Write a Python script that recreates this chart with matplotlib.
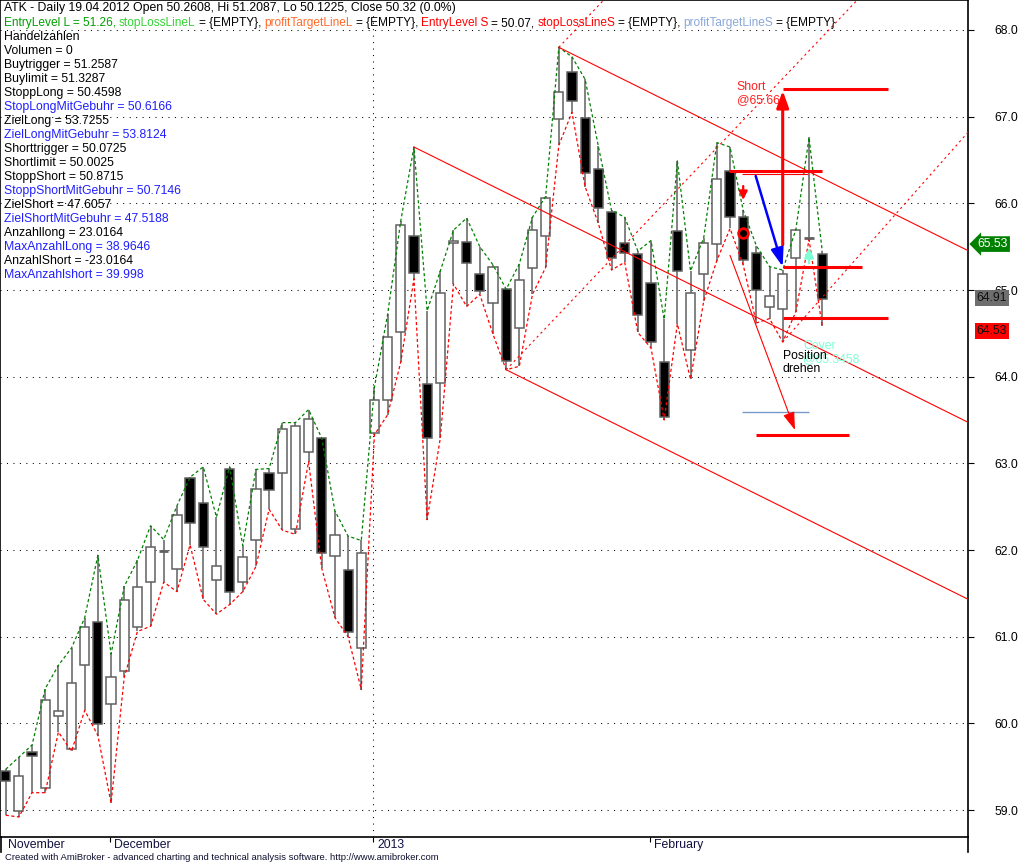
import numpy as np
import matplotlib
matplotlib.use("Agg")
import matplotlib.pyplot as plt
from matplotlib.lines import Line2D

plt.rcParams['font.family'] = ['Liberation Sans', 'DejaVu Sans']

# daily candles, Nov 2012 - Feb 2013
opens = [59.45, 58.99, 59.67, 59.25, 60.09, 59.70, 60.67, 61.17, 60.22, 60.60,
         61.11, 61.63, 61.99, 61.78, 62.83, 62.54, 61.65, 62.94, 61.63, 62.12,
         62.885, 62.885, 62.24, 63.13, 63.29, 61.93, 61.77, 60.87, 63.35, 63.73,
         64.52, 65.62, 63.91, 63.93, 65.54, 65.55, 65.19, 64.85, 65.01, 64.56,
         65.25, 65.62, 66.97, 67.51, 66.99, 66.40, 65.90, 65.54, 65.42, 65.08,
         64.17, 65.68, 64.31, 65.18, 65.53, 66.37, 65.84, 65.43, 64.80, 64.78,
         65.37, 65.60, 65.41]
highs = [59.47, 59.61, 59.75, 60.40, 60.67, 60.87, 61.22, 61.94, 60.80, 61.58,
         61.88, 62.28, 62.12, 62.51, 62.84, 62.96, 62.38, 62.96, 62.05, 62.93,
         62.94, 63.47, 63.47, 63.62, 63.29, 62.45, 62.16, 62.11, 63.88, 64.72,
         65.80, 66.65, 64.76, 65.22, 65.69, 65.83, 65.50, 65.29, 65.01, 65.30,
         65.84, 66.08, 67.80, 67.69, 67.43, 66.66, 65.92, 65.84, 65.45, 65.57,
         64.66, 66.49, 65.22, 65.60, 66.70, 66.65, 65.92, 65.51, 65.27, 65.23,
         65.70, 66.76, 65.45]
lows = [58.94, 58.92, 59.20, 59.20, 59.90, 59.68, 60.15, 59.86, 59.08, 60.53,
        61.06, 61.12, 61.63, 61.52, 62.06, 61.43, 61.26, 61.37, 61.52, 61.81,
        62.47, 62.23, 62.18, 63.02, 61.79, 61.22, 61.00, 60.39, 63.33, 63.56,
        64.17, 65.13, 62.35, 63.29, 65.07, 64.81, 64.95, 64.49, 64.08, 64.12,
        64.95, 65.26, 66.67, 67.05, 66.19, 65.77, 65.23, 65.32, 64.51, 64.33,
        63.50, 64.61, 63.97, 64.87, 65.34, 65.71, 65.29, 64.62, 64.67, 64.40,
        64.75, 65.58, 64.58]
closes = [59.34, 59.39, 59.62, 60.27, 60.14, 60.47, 61.11, 59.99, 60.54, 61.42,
          61.57, 62.03, 61.99, 62.40, 62.31, 62.04, 61.82, 61.52, 61.92, 62.70,
          62.69, 63.40, 63.43, 63.51, 61.96, 62.17, 61.05, 61.96, 63.73, 64.455,
          65.75, 65.20, 63.29, 64.97, 65.57, 65.31, 64.985, 65.27, 64.18, 65.11,
          65.69, 66.06, 67.28, 67.18, 66.35, 65.95, 65.37, 65.43, 64.71, 64.40,
          63.54, 65.22, 64.97, 65.54, 66.28, 65.84, 65.35, 65.00, 64.93, 65.18,
          65.69, 65.60, 64.90]

month_labels = ['November', 'December', '2013', 'February']
month_starts = [0, 8, 28, 49]

# falling channel (solid) : start bar, start price, slope per bar
chan_start = [31, 42, 38]
chan_price = [66.65, 67.80, 64.08]
chan_slope = -0.0755
# rising lines (dotted)
rise_start = [38, 42, 59]
rise_price = [64.08, 67.80, 64.40]
rise_slope = [0.16, 0.16, 0.172]

# trade levels: price, bar from, bar to, width
levels = [(67.32, 59, 67.0, 2.2), (66.377, 54.94, 62.0, 2.2), (66.335, 55.9, 60.9, 0.8),
          (65.265, 59, 65.0, 2.2), (64.68, 59, 67.0, 2.2), (63.327, 57.0, 64.0, 2.2)]
target_level = (63.59, 55.9, 61.0)

last_close = 64.91
sig_high = 65.53
sig_low = 64.53

legend1 = "ATK - Daily 19.04.2012 Open 50.2608, Hi 51.2087, Lo 50.1225, Close 50.32 (0.0%)"
legend2 = [("EntryLevel L = 51.26,", '#00a000'), ("stopLossLineL", '#33d433'), ("= {EMPTY},", 'black'),
           ("profitTargetLineL", '#ff6a2a'), ("= {EMPTY},", 'black'),
           ("EntryLevel S", '#ff0000'), ("= 50.07,", 'black'),
           ("stopLossLineS", '#ff0000'), ("= {EMPTY},", 'black'),
           ("profitTargetLineS", '#8aa8d8'), ("= {EMPTY}", 'black')]
info = [("Handelzahlen", 'k'), ("Volumen = 0", 'k'), ("Buytrigger = 51.2587", 'k'),
        ("Buylimit = 51.3287", 'k'), ("StoppLong = 50.4598", 'k'),
        ("StopLongMitGebuhr = 50.6166", '#1f1fff'), ("ZielLong = 53.7255", 'k'),
        ("ZielLongMitGebuhr = 53.8124", '#1f1fff'), ("Shorttrigger = 50.0725", 'k'),
        ("Shortlimit = 50.0025", 'k'), ("StoppShort = 50.8715", 'k'),
        ("StoppShortMitGebuhr = 50.7146", '#1f1fff'), ("ZielShort = 47.6057", 'k'),
        ("ZielShortMitGebuhr = 47.5188", '#1f1fff'), ("Anzahllong = 23.0164", 'k'),
        ("MaxAnzahlLong = 38.9646", '#1f1fff'), ("AnzahlShort = -23.0164", 'k'),
        ("MaxAnzahlshort = 39.998", '#1f1fff')]

W, H = 1028, 865
fig = plt.figure(figsize=(W / 100, H / 100), dpi=100)
ax = fig.add_axes([0, 28 / H, 968 / W, 837 / H])
ax.set_xlim(-0.433, 73.07)
ax.set_ylim(58.689, 68.346)

o = np.array(opens); h = np.array(highs); l = np.array(lows); c = np.array(closes)
x = np.arange(len(o))
edge = '#606060'

# grid
ax.set_yticks(range(59, 69))
ax.yaxis.grid(True, color='black', linewidth=0.75, linestyle=(0, (1, 5.2)))
ax.axvline(month_starts[2] - 0.08, color='black', linewidth=0.75, linestyle=(0, (1, 5.2)))

# candles
ax.vlines(x, l, h, color=edge, linewidth=1.1, zorder=2)
body = np.abs(c - o)
doji = body < 0.02
fill = np.where(c >= o, 'white', 'black')
ax.bar(x[~doji], body[~doji], bottom=np.minimum(o, c)[~doji], width=0.7,
       color=fill[~doji], edgecolor=edge, linewidth=1.1, zorder=3)
ax.hlines(o[doji], x[doji] - 0.35, x[doji] + 0.35, color=edge, linewidth=2, zorder=3)

# high / low envelopes
ax.plot(x, h, color='#008000', linewidth=0.9, linestyle=(0, (2.5, 2)), zorder=4)
ax.plot(x, l, color='#ff0000', linewidth=0.9, linestyle=(0, (2.5, 2)), zorder=4)

# channel lines
xe = 73.1
for s, p in zip(chan_start, chan_price):
    ax.plot([s, xe], [p, p + chan_slope * (xe - s)], color='#ff0000', linewidth=0.8, zorder=4)
for s, p, k in zip(rise_start, rise_price, rise_slope):
    ax.plot([s, xe], [p, p + k * (xe - s)], color='#ff0000', linewidth=0.8,
            linestyle=(0, (2, 3)), zorder=4)

# trade markings
for p, a, b, w in levels:
    ax.hlines(p, a, b, color='#ff0000', linewidth=w, zorder=5)
ax.hlines(target_level[0], target_level[1], target_level[2], color='#7799cc', linewidth=1, zorder=5)

ax.annotate('', xy=(59, 67.30), xytext=(59, 65.52), zorder=6,
            arrowprops=dict(arrowstyle='-|>,head_length=1.0,head_width=0.36', mutation_scale=10,
                            color='#ff0000', lw=2.2, shrinkA=0, shrinkB=0))
ax.annotate('', xy=(59.0, 65.27), xytext=(56.95, 66.315), zorder=6,
            arrowprops=dict(arrowstyle='-|>,head_length=1.1,head_width=0.38', mutation_scale=10,
                            color='#0000ff', lw=1.8, shrinkA=0, shrinkB=0))
ax.annotate('', xy=(59.93, 63.385), xytext=(55.0, 65.40), zorder=6,
            arrowprops=dict(arrowstyle='-|>,head_length=1.1,head_width=0.36', mutation_scale=10,
                            color='#ff0000', lw=0.8, shrinkA=0, shrinkB=0))
ax.annotate('', xy=(56, 66.04), xytext=(56, 66.20), zorder=6,
            arrowprops=dict(arrowstyle='-|>,head_length=0.5,head_width=0.25', mutation_scale=10,
                            color='#ff0000', lw=1.6, shrinkA=0, shrinkB=0))
ax.annotate('', xy=(61, 65.49), xytext=(61, 65.31), zorder=6,
            arrowprops=dict(arrowstyle='-|>,head_length=0.6,head_width=0.28', mutation_scale=10,
                            color='#7fffd4', lw=1.6, shrinkA=0, shrinkB=0))
ax.plot([56], [65.66], marker='o', markersize=7, markerfacecolor='none',
        markeredgecolor='#ff0000', markeredgewidth=2, zorder=7)

fs = 8.8
ax.text(55.5, 67.27, "Short\n@65.66", color='#ff2020', fontsize=fs, va='center', ha='left',
        linespacing=1.1, zorder=8)
ax.text(60.54, 64.28, "Cover\n@65.3458", color='#7fffd4', fontsize=fs, va='center', ha='left',
        linespacing=1.1, zorder=8)
ax.text(59.0, 64.16, "Position\ndrehen", color='black', fontsize=fs, va='center', ha='left',
        linespacing=1.1, zorder=9)

# axes look
for sp in ['left', 'right', 'bottom', 'top']:
    ax.spines[sp].set_color('black')
    ax.spines[sp].set_linewidth(1.2)
ax.yaxis.tick_right()
ax.yaxis.set_major_formatter(matplotlib.ticker.FormatStrFormatter('%.1f'))
ax.tick_params(axis='y', length=4.3, width=0.8, pad=15, labelsize=fs, colors='black')
ax.set_xticks([m - 0.08 for m in month_starts[1:]])
ax.set_xticklabels([])
ax.tick_params(axis='x', length=3.6, width=0.8, direction='out')
for m, lab in zip(month_starts, month_labels):
    ax.annotate(lab, xy=(m - 0.08, 0), xycoords=('data', 'axes fraction'),
                xytext=(2.6, -5.8), textcoords='offset points', fontsize=fs,
                va='center', ha='left', color='#101040')

# value boxes on the price axis
ax.annotate(f"{sig_high:.2f}", xy=(1, sig_high), xycoords=('axes fraction', 'data'),
            xytext=(7, 0), textcoords='offset points', fontsize=fs, color='white',
            va='center', ha='left', annotation_clip=False,
            bbox=dict(boxstyle='larrow,pad=0.15', fc='#008000', ec='none'))
ax.annotate(f"{last_close:.2f}", xy=(1, last_close), xycoords=('axes fraction', 'data'),
            xytext=(6, 0), textcoords='offset points', fontsize=fs, color='#111111',
            va='center', ha='left', annotation_clip=False,
            bbox=dict(boxstyle='square,pad=0.15', fc='#6e6e6e', ec='none'))
ax.annotate(f"{sig_low:.2f}", xy=(1, sig_low), xycoords=('axes fraction', 'data'),
            xytext=(6, 0), textcoords='offset points', fontsize=fs, color='#111111',
            va='center', ha='left', annotation_clip=False,
            bbox=dict(boxstyle='square,pad=0.15', fc='#ff0000', ec='none'))

# frame extensions below the date axis
fig.add_artist(Line2D([0.5 / W, 0.5 / W], [1 - 852 / H, 1 - 837 / H], color='black', lw=1.2))
fig.add_artist(Line2D([968 / W, 968 / W], [1 - 852 / H, 1 - 837 / H], color='black', lw=1.2))

# title / info block
fig.text(4 / W, 1 - 8.3 / H, legend1, fontsize=fs, va='center', ha='left', color='black')
r = fig.canvas.get_renderer()
fs2 = 8.6
space = 3.0
px = 4
for txt, col in legend2:
    t = fig.text(px / W, 1 - 23.3 / H, txt, fontsize=fs2, va='center', ha='left', color=col)
    px += t.get_window_extent(r).width + space
for i, (txt, col) in enumerate(info):
    fig.text(4 / W, 1 - (36.7 + 14.02 * i) / H, txt, fontsize=fs, va='center', ha='left', color=col)

fig.text(5 / W, 1 - 858 / H,
         "Created with AmiBroker - advanced charting and technical analysis software. http://www.amibroker.com",
         fontsize=6.8, va='center', ha='left', color='#101030')

fig.savefig('out.png', dpi=100)
